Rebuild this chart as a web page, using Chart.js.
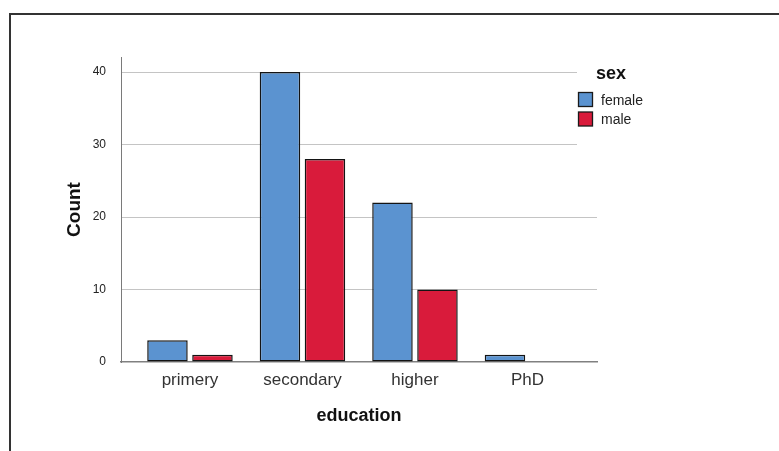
<!DOCTYPE html>
<html>
<head>
<meta charset="utf-8">
<script src="https://cdn.jsdelivr.net/npm/chart.js@4.4.0/dist/chart.umd.min.js"></script>
<style>
  body { margin: 0; background: #fff; }
  #frame { position: absolute; left: 9px; top: 13px; right: 0; bottom: 0;
           border-top: 2px solid #333; border-left: 2px solid #333; }
  #wrap { position: absolute; left: 0; top: 0; width: 779px; height: 451px; }
</style>
</head>
<body>
<div id="frame"></div>
<div id="wrap"><canvas id="grafico" width="779" height="451"></canvas></div>
<script>
// dados
const categorias = ['primery', 'secondary', 'higher', 'PhD'];
const femaleCounts = [3, 40, 22, 1];
const maleCounts = [1, 28, 10, 0];
const yTicks = [0, 10, 20, 30, 40];
const legendTitle = 'sex';

Chart.defaults.font.family = '"Liberation Sans", Arial, sans-serif';

// legenda desenhada por cima da área do gráfico (como no SPSS)
const legendBox = {
    id: 'legendBox',
    afterDraw(chart) {
        const ctx = chart.ctx;
        ctx.save();
        ctx.fillStyle = '#fff';
        ctx.fillRect(577, 60, 120, 90);
        ctx.fillStyle = '#111';
        ctx.textBaseline = 'middle';
        ctx.font = 'bold 18px "Liberation Sans", Arial, sans-serif';
        ctx.fillText(legendTitle, 596, 74);
        chart.data.datasets.forEach((ds, i) => {
            const y = 92 + i * 19.5;
            ctx.fillStyle = ds.backgroundColor;
            ctx.fillRect(578.5, y + 0.5, 14, 14);
            ctx.strokeStyle = '#1a1a1a';
            ctx.lineWidth = 1.3;
            ctx.strokeRect(578.5, y + 0.5, 14, 14);
            ctx.fillStyle = '#222';
            ctx.font = '14px "Liberation Sans", Arial, sans-serif';
            ctx.fillText(ds.label, 601, y + 9);
        });
        ctx.restore();
    }
};

const toPoints = arr => arr.map((v, i) => ({ x: i, y: v }));

new Chart(document.getElementById('grafico').getContext('2d'), {
    type: 'bar',
    data: {
        datasets: [{
            label: 'female',
            data: toPoints(femaleCounts),
            backgroundColor: '#5B93D0',
            borderColor: '#141414',
            borderWidth: 1.5,
            borderSkipped: false
        }, {
            label: 'male',
            data: toPoints(maleCounts),
            backgroundColor: '#D91B3B',
            borderColor: '#141414',
            borderWidth: 1.5,
            borderSkipped: false
        }]
    },
    options: {
        responsive: false,
        animation: false,
        categoryPercentage: 0.8,
        barPercentage: 0.9,
        layout: { padding: { top: 57, right: 182, left: 0, bottom: 0 } },
        plugins: {
            legend: { display: false },
            tooltip: { enabled: false }
        },
        scales: {
            x: {
                type: 'linear',
                offset: false,
                min: -0.613,
                max: 3.618,
                afterBuildTicks: scale => { scale.ticks = categorias.map((c, i) => ({ value: i })); },
                afterFit: scale => { scale.height = 89; },
                ticks: {
                    callback: v => categorias[v],
                    color: '#333',
                    font: { size: 17 },
                    padding: 8,
                    maxRotation: 0,
                    autoSkip: false
                },
                grid: { display: false, drawTicks: false, offset: false },
                border: { display: true, color: '#808080', width: 1.5 },
                title: {
                    display: true,
                    text: 'education',
                    color: '#111',
                    font: { size: 18, weight: 'bold' },
                    padding: { top: 0, bottom: 24 }
                }
            },
            y: {
                min: 0,
                max: 42.07,
                afterBuildTicks: scale => { scale.ticks = yTicks.map(v => ({ value: v })); },
                afterFit: scale => { scale.width = 121; },
                ticks: {
                    color: '#222',
                    font: { size: 12 },
                    padding: 15
                },
                grid: {
                    drawTicks: false,
                    color: ctx => ctx.tick && ctx.tick.value === 0 ? 'rgba(0,0,0,0)' : '#c4c4c4',
                    lineWidth: 1
                },
                border: { display: true, color: '#7a7a7a', width: 1 },
                title: {
                    display: true,
                    text: 'Count',
                    color: '#111',
                    font: { size: 19, weight: 'bold' },
                    padding: { top: 63, bottom: 0 }
                }
            }
        }
    },
    plugins: [legendBox]
});
</script>
</body>
</html>
